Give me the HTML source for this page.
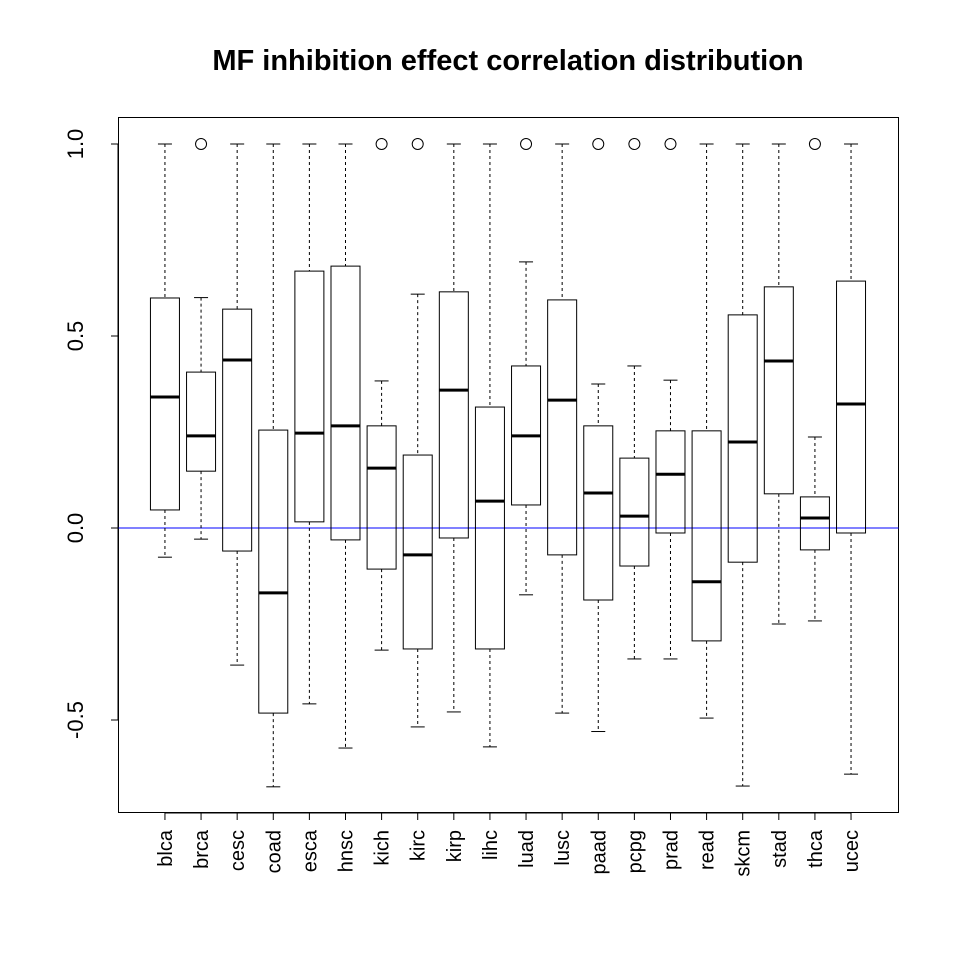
<!DOCTYPE html>
<html><head><meta charset="utf-8"><style>
html,body{margin:0;padding:0;background:#fff;}
svg{display:block;font-family:"Liberation Sans",sans-serif;}
</style></head><body>
<svg id="chart" width="960" height="960" viewBox="0 0 960 960" xmlns="http://www.w3.org/2000/svg">
<text x="508" y="70" text-anchor="middle" font-size="29" font-weight="bold">MF inhibition effect correlation distribution</text>
<rect x="118.5" y="117.5" width="780" height="695" fill="none" stroke="#000" stroke-width="1"/>
<g id="marks"></g>
</svg>
<script>
const categories=["blca","brca","cesc","coad","esca","hnsc","kich","kirc","kirp","lihc","luad","lusc","paad","pcpg","prad","read","skcm","stad","thca","ucec"];
const whiskerHigh=[1.0,0.60,1.0,1.0,1.0,1.0,0.383,0.609,1.0,1.0,0.693,1.0,0.375,0.422,0.385,1.0,1.0,1.0,0.237,1.0];
const q3=[0.599,0.406,0.57,0.255,0.669,0.682,0.266,0.19,0.615,0.315,0.422,0.594,0.266,0.182,0.253,0.253,0.555,0.628,0.081,0.643];
const medians=[0.341,0.24,0.4375,-0.169,0.247,0.266,0.156,-0.07,0.359,0.07,0.24,0.333,0.091,0.031,0.14,-0.14,0.224,0.435,0.026,0.323];
const q1=[0.047,0.148,-0.06,-0.482,0.016,-0.031,-0.107,-0.315,-0.026,-0.315,0.06,-0.07,-0.1875,-0.099,-0.013,-0.294,-0.089,0.089,-0.057,-0.013];
const whiskerLow=[-0.076,-0.029,-0.357,-0.674,-0.458,-0.573,-0.318,-0.518,-0.479,-0.57,-0.174,-0.482,-0.53,-0.341,-0.341,-0.495,-0.672,-0.25,-0.242,-0.641];
const outliers=[null,1.0,null,null,null,null,1.0,1.0,null,null,1.0,null,1.0,1.0,1.0,null,null,null,1.0,null];
const yTicks=[-0.5,0.0,0.5,1.0];
const yTickLabels=["-0.5","0.0","0.5","1.0"];
const refLine=0;

const NS="http://www.w3.org/2000/svg";
const g=document.getElementById('marks');
function x(i){return 118+(i+1.3)*36.11;}
function y(v){return 528-384*v;}
function mk(t,a){const e=document.createElementNS(NS,t);for(const k in a)e.setAttribute(k,a[k]);g.appendChild(e);return e;}
let e;
e=mk('line',{x1:118.5,x2:898.5,y1:y(refLine),y2:y(refLine),stroke:'#0000ff','stroke-width':1});


yTicks.forEach((t,k)=>{
  e=mk('line',{x1:111,x2:118,y1:y(t),y2:y(t),stroke:'#000'});
  
  
  e=mk('text',{x:0,y:0,transform:`translate(83,${y(t)}) rotate(-90)`,'text-anchor':'middle','font-size':'22'});
  e.textContent=yTickLabels[k];
  
  
});
e=mk('line',{x1:118,x2:118,y1:y(yTicks[0]),y2:y(yTicks[3]),stroke:'#000'});


categories.forEach((c,i)=>{
  const cx=x(i),hw=14.5,sw=7;
  e=mk('line',{x1:cx,x2:cx,y1:y(whiskerHigh[i]),y2:y(q3[i]),stroke:'#000','stroke-dasharray':'3,3'});
  
  
  e=mk('line',{x1:cx,x2:cx,y1:y(q1[i]),y2:y(whiskerLow[i]),stroke:'#000','stroke-dasharray':'3,3'});
  
  
  e=mk('line',{x1:cx-sw,x2:cx+sw,y1:y(whiskerHigh[i]),y2:y(whiskerHigh[i]),stroke:'#000'});
  
  
  e=mk('line',{x1:cx-sw,x2:cx+sw,y1:y(whiskerLow[i]),y2:y(whiskerLow[i]),stroke:'#000'});
  
  
  e=mk('rect',{x:cx-hw,y:y(q3[i]),width:2*hw,height:y(q1[i])-y(q3[i]),fill:'none',stroke:'#000'});
  
  
  e=mk('line',{x1:cx-hw,x2:cx+hw,y1:y(medians[i]),y2:y(medians[i]),stroke:'#000','stroke-width':3});
  
  
  if(outliers[i]!==null){
    e=mk('circle',{cx:cx,cy:y(outliers[i]),r:5.5,fill:'none',stroke:'#000'});
    
    
  }
  e=mk('line',{x1:cx,x2:cx,y1:813,y2:820,stroke:'#000'});
  
  
  e=mk('text',{x:0,y:0,transform:`translate(${cx+7},830) rotate(-90)`,'text-anchor':'end','font-size':'20'});
  e.textContent=c;
  
  
});
e=mk('line',{x1:x(0),x2:x(19),y1:813,y2:813,stroke:'#000'});


</script>
</body></html>
